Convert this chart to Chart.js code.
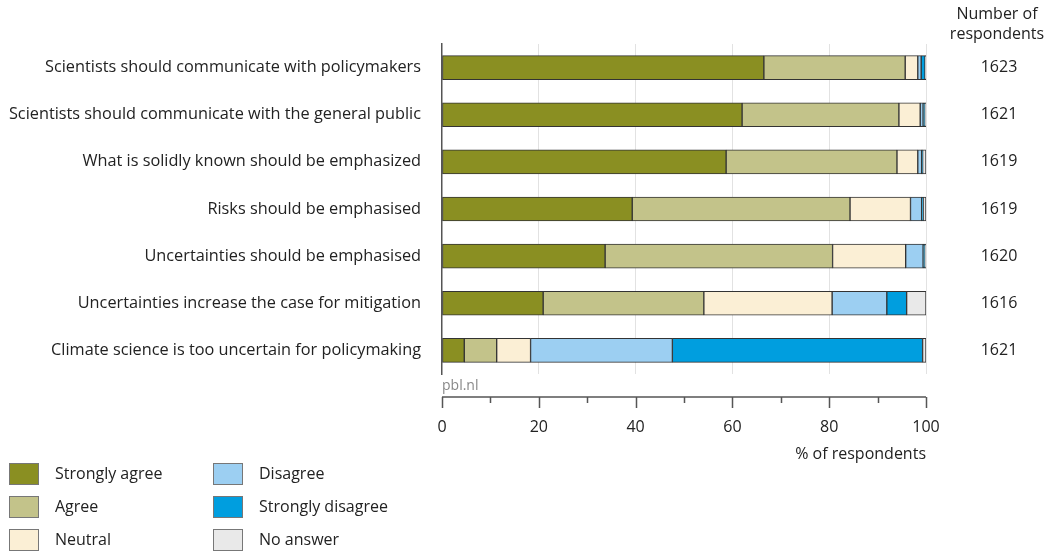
<!DOCTYPE html>
<html>
<head>
<meta charset="utf-8">
<script src="https://cdn.jsdelivr.net/npm/chart.js@4.4.1/dist/chart.umd.min.js"></script>
<style>
  html, body { margin: 0; padding: 0; background: #fff; }
  #wrap { position: relative; width: 1046px; height: 553px; }
  #legend { position: absolute; left: 0; top: 0; font-family: "Open Sans", sans-serif; font-size: 16px; color: #222; }
  .item { position: absolute; white-space: nowrap; }
  .box { position: absolute; width: 28px; height: 20px; border: 1px solid #777; }
  .txt { position: absolute; line-height: 22px; }
</style>
</head>
<body>
<div id="wrap">
  <canvas id="chart" width="1046" height="553"></canvas>
  <div id="legend"></div>
</div>
<script>
"use strict";

/*----------------------------------------*/
/*  data
/*----------------------------------------*/
var statements = [
  "Scientists should communicate with policymakers",
  "Scientists should communicate with the general public",
  "What is solidly known should be emphasized",
  "Risks should be emphasised",
  "Uncertainties should be emphasised",
  "Uncertainties increase the case for mitigation",
  "Climate science is too uncertain for policymaking"
];
var respondents = [1623, 1621, 1619, 1619, 1620, 1616, 1621];

var stronglyAgree    = [66.5, 62.0, 58.7, 39.3, 33.7, 20.9, 4.6];
var agree            = [29.2, 32.4, 35.3, 45.0, 47.0, 33.2, 6.7];
var neutral          = [2.6, 4.4, 4.3, 12.5, 15.1, 26.5, 7.0];
var disagree         = [0.7, 0.6, 0.8, 2.3, 3.6, 11.3, 29.3];
var stronglyDisagree = [0.8, 0.4, 0.2, 0.3, 0.4, 4.1, 51.7];
var noAnswer         = [0.2, 0.2, 0.7, 0.6, 0.2, 4.0, 0.7];

var xTicks = [0, 20, 40, 60, 80, 100];

var FONT = '"Open Sans", sans-serif';
var TEXT = '#222';

function series(label, data, color) {
  return {
    label: label,
    data: data,
    backgroundColor: color,
    borderColor: '#333',
    borderWidth: 1,
    borderSkipped: false,
    barThickness: 24
  };
}

/*----------------------------------------*/
/*  extra drawing: detached x axis, counts
/*----------------------------------------*/
var extras = {
  id: 'extras',
  afterDraw: function (chart) {
    var c = chart.ctx, xs = chart.scales.x, ys = chart.scales.y, area = chart.chartArea;
    var axisY = area.bottom + 23;
    c.save();
    c.strokeStyle = '#555';
    c.lineWidth = 1.5;
    c.beginPath();
    c.moveTo(xs.getPixelForValue(0), axisY);
    c.lineTo(xs.getPixelForValue(100), axisY);
    for (var v = 0; v <= 100; v += 10) {
      var px = Math.round(xs.getPixelForValue(v)) + 0.5;
      c.moveTo(px, axisY);
      c.lineTo(px, axisY + (v % 20 === 0 ? 11 : 6));
    }
    c.stroke();

    c.fillStyle = '#888';
    c.font = '14px ' + FONT;
    c.textAlign = 'left';
    c.textBaseline = 'middle';
    c.fillText('pbl.nl', xs.getPixelForValue(0), area.bottom + 12);

    c.fillStyle = TEXT;
    c.font = '16px ' + FONT;
    c.textAlign = 'right';
    c.fillText('% of respondents', xs.getPixelForValue(100), 454);

    c.textAlign = 'center';
    c.fillText('Number of', 997, 14);
    c.fillText('respondents', 997, 34);
    respondents.forEach(function (n, i) {
      c.fillText(String(n), 999, ys.getPixelForValue(i));
    });
    c.restore();
  }
};

/*----------------------------------------*/
/*  chart
/*----------------------------------------*/
var ctx = document.getElementById('chart');
var chart = new Chart(ctx, {
  type: 'bar',
  data: {
    labels: statements,
    datasets: [
      series('Strongly agree', stronglyAgree, '#8a8f22'),
      series('Agree', agree, '#c3c38a'),
      series('Neutral', neutral, '#fbefd5'),
      series('Disagree', disagree, '#9ccff2'),
      series('Strongly disagree', stronglyDisagree, '#009edf'),
      series('No answer', noAnswer, '#e9e9e9')
    ]
  },
  options: {
    indexAxis: 'y',
    responsive: false,
    animation: false,
    layout: { padding: { left: 0, right: 120, top: 44, bottom: 119 } },
    plugins: {
      legend: { display: false },
      tooltip: { enabled: false }
    },
    scales: {
      x: {
        stacked: true,
        min: 0,
        max: 100,
        afterFit: function (s) { s.height = 60; },
        ticks: {
          stepSize: 10,
          autoSkip: false,
          maxRotation: 0,
          padding: 44,
          color: TEXT,
          font: { family: FONT, size: 16 },
          callback: function (v) { return xTicks.indexOf(v) >= 0 ? String(v) : ''; }
        },
        grid: {
          drawTicks: false,
          color: function (c) {
            var v = c.tick ? c.tick.value : 0;
            return (v > 0 && xTicks.indexOf(v) >= 0) ? '#e2e2e2' : 'rgba(0,0,0,0)';
          }
        },
        border: { display: false }
      },
      y: {
        stacked: true,
        afterFit: function (s) { s.width = 442; },
        ticks: {
          padding: 21,
          color: TEXT,
          font: { family: FONT, size: 16.3 }
        },
        grid: { display: false, drawTicks: false },
        border: { display: true, color: '#555', width: 1.5 }
      }
    }
  },
  plugins: [extras]
});

/*----------------------------------------*/
/*  legend (two columns, bottom left)
/*----------------------------------------*/
var legend = document.getElementById('legend');
chart.data.datasets.forEach(function (ds, i) {
  var col = Math.floor(i / 3), row = i % 3;
  var x = col === 0 ? 9 : 213;
  var y = 463 + row * 33;
  var item = document.createElement('div');
  item.className = 'item';
  item.style.left = x + 'px';
  item.style.top = y + 'px';
  item.innerHTML = '<div class="box" style="left:0;top:0;background:' + ds.backgroundColor + '"></div>' +
                   '<div class="txt" style="left:46px;top:-1px">' + ds.label + '</div>';
  legend.appendChild(item);
});
</script>
</body>
</html>
